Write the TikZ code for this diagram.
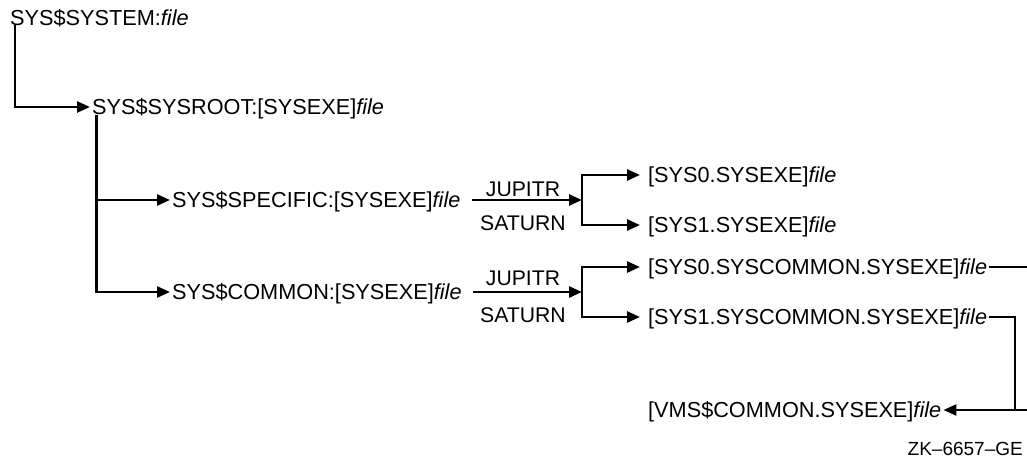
\documentclass[tikz,border=0pt]{standalone}
\usepackage{fontspec}
\setmainfont{Liberation Sans}
\usetikzlibrary{arrows.meta}
\begin{document}
\begin{tikzpicture}[x=1pt,y=-1pt,
  lbl/.style={font=\fontsize{21.7}{26}\selectfont, inner xsep=2pt, inner ysep=0pt,
              text height=15.5pt, text depth=0pt, anchor=west},
  tag/.style={font=\fontsize{21.2}{25}\selectfont, inner sep=0pt,
              text height=15.2pt, text depth=0pt},
  wire/.style={line width=2.6pt},
  arr/.style={wire, -{Triangle[length=13pt,width=11pt]}},
  into/.style={arr, shorten >=6pt}]
\useasboundingbox (0,0) rectangle (1027,460);

% logical names and directories
\node[lbl] (sys)  at (8,17.5)  {SYS\$SYSTEM:\textit{file}};
\node[lbl] (root) at (90,107)  {SYS\$SYSROOT:[SYSEXE]\textit{file}};
\node[lbl] (spec) at (170,200) {SYS\$SPECIFIC:[SYSEXE]\textit{file}};
\node[lbl] (comm) at (170,292) {SYS\$COMMON:[SYSEXE]\textit{file}};

\node[lbl] (s0e) at (646,175) {[SYS0.SYSEXE]\textit{file}};
\node[lbl] (s1e) at (646,225) {[SYS1.SYSEXE]\textit{file}};
\node[lbl] (s0c) at (646,267) {[SYS0.SYSCOMMON.SYSEXE]\textit{file}};
\node[lbl] (s1c) at (646,317) {[SYS1.SYSCOMMON.SYSEXE]\textit{file}};
\node[lbl] (vms) at (646,410) {[VMS\$COMMON.SYSEXE]\textit{file}};

% node names on the split lines
\node[tag] (j1) at (523,188.5) {JUPITR};
\node[tag] (t1) at (523,222.5) {SATURN};
\node[tag] (j2) at (523,277.5) {JUPITR};
\node[tag] (t2) at (523,314.5) {SATURN};

\node[font=\fontsize{19}{23}\selectfont, inner sep=0pt, text height=13.6pt,
      text depth=0pt, anchor=east] (zk) at (1023,449) {ZK--6657--GE};

% branch points
\coordinate (fk1) at (582,200);
\coordinate (fk2) at (582,292);
\coordinate (edge) at (1033,267);
\coordinate (jn) at (1015,410);

% search order
\draw[arr] ([xshift=7pt]sys.south west) |- (root.west);
\draw[arr] ([xshift=6.5pt]root.south west) |- (spec.west);
\draw[arr] ([xshift=6.5pt]root.south west) |- (comm.west);

\draw[arr] ([xshift=9pt]spec.east) -- (fk1);
\draw[into] (fk1) |- (s0e.west);
\draw[into] (fk1) |- (s1e.west);

\draw[arr] ([xshift=9pt]comm.east) -- (fk2);
\draw[into] (fk2) |- (s0c.west);
\draw[into] (fk2) |- (s1c.west);

% both common roots lead to the shared directory
\draw[arr] (s0c.east) -- (edge) |- (vms.east);
\draw[wire] (s1c.east) -| (jn);
\end{tikzpicture}
\end{document}
